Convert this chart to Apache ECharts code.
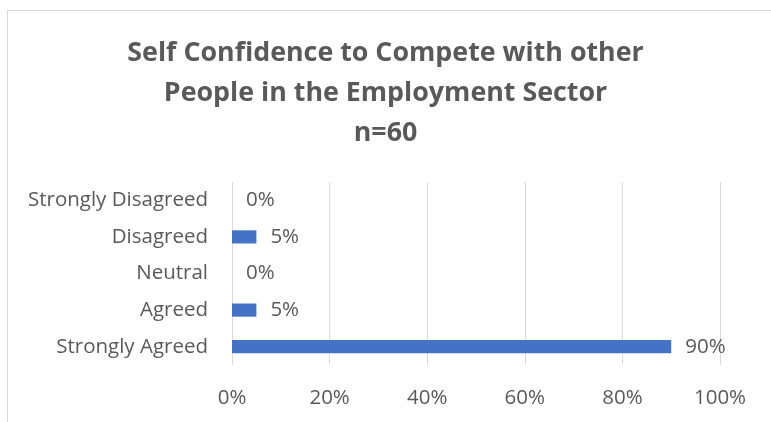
<!DOCTYPE html>
<html>
<head>
<meta charset="utf-8">
<script src="https://cdn.jsdelivr.net/npm/echarts@6/dist/echarts.min.js"></script>
<style>
  html, body { margin: 0; padding: 0; background: #fff; }
  #chart { width: 771px; height: 422px; }
</style>
</head>
<body>
<div id="chart"></div>
<script>
// categories bottom to top, as in the picture
var categories = ['Strongly Agreed', 'Agreed', 'Neutral', 'Disagreed', 'Strongly Disagreed'];
var percentValues = [90, 5, 0, 5, 0];
var tickValues = [0, 20, 40, 60, 80, 100];

var chart = echarts.init(document.getElementById('chart'));
var txt = '#595959';
var fam = 'Open Sans, Noto Sans, sans-serif';

chart.setOption({
  animation: false,
  graphic: [{
    type: 'rect',
    shape: { x: 7.5, y: 10.5, width: 800, height: 450 },
    style: { fill: 'none', stroke: '#d9d9d9', lineWidth: 1 },
    silent: true
  }],
  title: {
    text: 'Self Confidence to Compete with other\nPeople in the Employment Sector\nn=60',
    left: 'center',
    top: 28,
    textStyle: { color: txt, fontSize: 26.8, fontWeight: 'bold', fontFamily: fam, lineHeight: 40 }
  },
  grid: { left: 232, right: 51, top: 182, bottom: 57 },
  xAxis: {
    type: 'value',
    min: tickValues[0],
    max: tickValues[tickValues.length - 1],
    interval: 20,
    axisLine: { show: false },
    axisTick: { show: false },
    axisLabel: { color: txt, fontSize: 20.5, fontFamily: fam, margin: 23, formatter: '{value}%' },
    splitLine: { lineStyle: { color: '#d9d9d9', width: 1 } }
  },
  yAxis: {
    type: 'category',
    data: categories,
    axisLine: { show: false },
    axisTick: { show: false },
    axisLabel: { color: txt, fontSize: 20.5, fontFamily: fam, margin: 24 }
  },
  series: [{
    type: 'bar',
    data: percentValues,
    barCategoryGap: '64%',
    itemStyle: { color: '#4472C4' },
    label: {
      show: true,
      position: 'right',
      distance: 14,
      color: txt,
      fontSize: 20.5,
      fontFamily: fam,
      formatter: '{c}%'
    }
  }]
});
</script>
</body>
</html>
